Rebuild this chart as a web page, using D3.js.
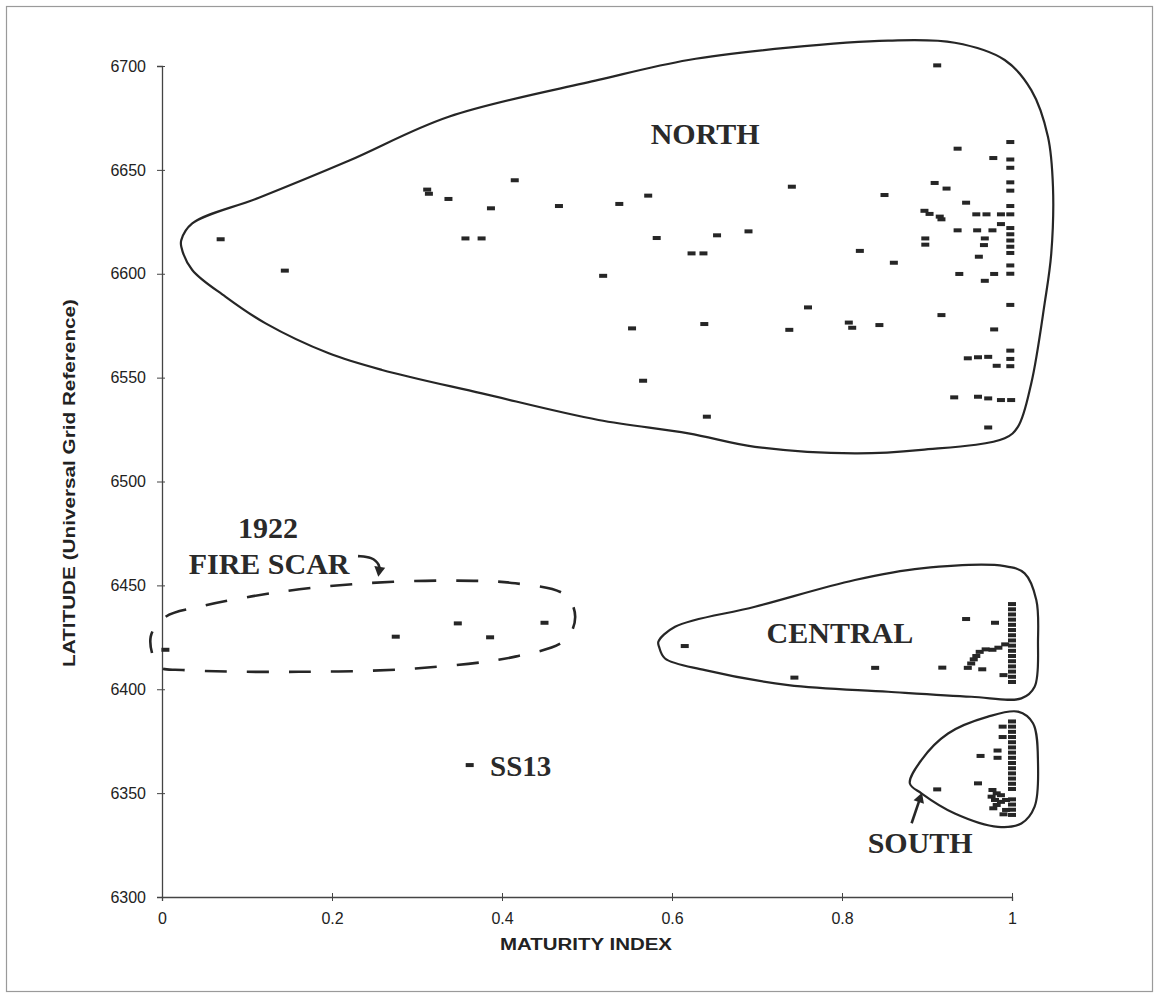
<!DOCTYPE html>
<html>
<head>
<meta charset="utf-8">
<script src="https://cdn.jsdelivr.net/npm/d3@7"></script>
<style>
  html, body { margin: 0; padding: 0; background: #fff; }
  svg { display: block; }
</style>
</head>
<body>
<svg id="chart" width="1159" height="998"></svg>
<script>
// ---------------- DATA ----------------
const xTicks = [0, 0.2, 0.4, 0.6, 0.8, 1];
const xTickLabels = ["0", "0.2", "0.4", "0.6", "0.8", "1"];
const yTicks = [6300, 6350, 6400, 6450, 6500, 6550, 6600, 6650, 6700];
const xTitle = "MATURITY INDEX";
const yTitle = "LATITUDE (Universal Grid Reference)";

// [maturity index, latitude]
const northPoints = [
  [0.069,6616.6],[0.1445,6601.5],[0.312,6640.5],[0.314,6638.5],[0.337,6636],[0.387,6631.5],[0.415,6645],
  [0.467,6632.6],[0.357,6617],[0.376,6617],
  [0.538,6633.6],[0.572,6637.6],[0.582,6617.2],[0.653,6618.5],[0.623,6609.8],[0.637,6609.8],[0.690,6620.4],
  [0.741,6641.9],[0.850,6637.9],[0.519,6599],[0.760,6583.8],[0.821,6611],[0.861,6605.3],
  [0.912,6700.3],[0.936,6660.2],[0.978,6655.7],[0.998,6663.4],[0.998,6655],[0.998,6651],
  [0.909,6643.7],[0.923,6641],[0.998,6644],[0.998,6640],[0.946,6634.2],[0.998,6632.6],
  [0.897,6630.3],[0.903,6628.8],[0.915,6627.5],[0.917,6626.2],
  [0.958,6628.6],[0.970,6628.6],[0.987,6628.6],[0.998,6628.6],
  [0.936,6620.9],[0.959,6620.9],[0.977,6620.9],[0.987,6623.9],
  [0.998,6622],[0.998,6619],[0.998,6616],[0.998,6613],[0.998,6610],
  [0.968,6617],[0.967,6613.8],[0.961,6608.2],[0.898,6617],[0.898,6614],
  [0.938,6599.9],[0.968,6596.6],[0.979,6599.9],[0.998,6604],[0.998,6600],[0.998,6585],[0.917,6580.1],
  [0.553,6573.7],[0.638,6575.8],[0.738,6573],[0.808,6576.5],[0.812,6574],[0.844,6575.3],[0.979,6573.2],
  [0.566,6548.5],[0.641,6531.2],
  [0.948,6559.3],[0.960,6559.8],[0.972,6560],[0.982,6555.7],[0.998,6563],[0.998,6559],[0.998,6555.5],
  [0.932,6540.5],[0.960,6540.8],[0.972,6540],[0.987,6539.2],[0.999,6539.2],[0.972,6526]
];
const centralPoints = [
  [0.615,6420.8],[0.744,6405.6],[0.839,6410.3],[0.918,6410.4],[0.946,6433.8],[0.980,6432],
  [0.948,6410.3],[0.952,6412.4],[0.955,6414.4],[0.958,6416],[0.962,6418],[0.969,6419.2],
  [0.977,6419],[0.984,6420],[0.992,6421.6],[0.965,6409.6],[0.990,6406.8],
  [1,6441],[1,6438.5],[1,6436],[1,6433.5],[1,6431],[1,6428.5],[1,6426],[1,6423.5],
  [1,6421],[1,6418.5],[1,6416],[1,6413.5],[1,6411],[1,6408.5],[1,6406],[1,6403.5]
];
const southPoints = [
  [0.912,6351.8],[0.960,6354.7],[0.963,6367.9],[0.983,6370.5],[0.983,6367],[0.989,6382],[0.989,6377],
  [0.977,6351.5],[0.982,6349.9],[0.976,6348.3],[0.980,6346.7],[0.982,6344.3],[0.978,6342.7],
  [0.987,6345.8],[0.993,6346.7],[0.993,6341.9],[0.987,6349],[0.990,6339.8],
  [1,6384.5],[1,6382],[1,6379.5],[1,6377],[1,6374.5],[1,6372],[1,6369.5],[1,6367],[1,6364.5],
  [1,6362],[1,6359.5],[1,6357],[1,6354.5],[1,6352],[1,6347],[1,6344.5],[1,6342],[1,6339.5]
];
const fireScarPoints = [[0.004,6419],[0.275,6425.3],[0.348,6431.7],[0.386,6425],[0.450,6432]];
const ss13Points = [[0.362,6363.5]];

// region outlines (data units)
const northOutline = [
  [0.0227,6616.2],[0.0356,6624.2],[0.114,6636.6],[0.2197,6654.4],[0.3373,6675.6],[0.5135,6693.3],
  [0.6193,6702.9],[0.7368,6708.8],[0.8543,6712.2],[0.9327,6711.2],[0.9914,6702.9],[1.0227,6688.4],
  [1.0423,6666],[1.0482,6641.9],[1.0462,6609.8],[1.0384,6585.7],[1.0227,6547.3],[1.0071,6526.4],
  [0.9914,6520.8],[0.8934,6515.2],[0.8152,6513.5],[0.6976,6516.7],[0.6193,6523.2],[0.5135,6529.6],
  [0.3764,6542.4],[0.2589,6553.7],[0.1962,6561.7],[0.1219,6576.1],[0.0749,6588.9],[0.0356,6601.8],
  [0.0227,6613]
];
const centralOutline = [
  [0.584,6422.9],[0.6036,6430.1],[0.6976,6439.7],[0.8152,6452.6],[0.8934,6458.2],[0.9914,6459.3],
  [1.0149,6455.8],[1.0286,6443],[1.0306,6423.7],[1.0266,6401.2],[1.011,6395.6],[0.9522,6396.4],
  [0.8543,6398.8],[0.7368,6402],[0.6389,6409.2],[0.5918,6414.8],[0.5848,6420.4]
];
const southOutline = [
  [0.8798,6354.7],[0.8934,6365.9],[0.9248,6378.7],[0.9718,6386.8],[1.0071,6389.2],[1.0247,6383.6],
  [1.0306,6364.4],[1.0266,6343.5],[1.011,6335.4],[0.9835,6333.8],[0.9327,6340.2],[0.8934,6349.9]
];
const fireScarOutline = [
  [-0.0133,6425.3],[0.0043,6434.9],[0.0435,6439.7],[0.1414,6447],[0.2394,6451],[0.3373,6452.3],
  [0.4156,6451],[0.4744,6445.4],[0.4861,6434.9],[0.4744,6423.7],[0.4156,6415.7],[0.2981,6410],
  [0.161,6408.4],[0.0239,6409.3],[-0.0035,6410.9]
];

// annotation labels [x, latitude, text]
const regionLabels = [
  [0.639, 6662.5, "NORTH"],
  [0.7976, 6422.4, "CENTRAL"],
  [0.892, 6321.3, "SOUTH"],
  [0.1247, 6472.8, "1922"],
  [0.126, 6455.5, "FIRE SCAR"]
];
const ss13Label = [0.386, 6358.2, "SS13"];
const fireArrow = [[0.2306,6464.1],[0.247,6463.7],[0.2565,6459.8],[0.2555,6457]];
const southArrow = [[0.8819,6335.5],[0.8918,6347.5]];

// ---------------- CHART ----------------
const svg = d3.select("#chart");
const x = d3.scaleLinear().domain([0, 1]).range([162, 1012]);
const y = d3.scaleLinear().domain([6300, 6700]).range([897, 66]);
const ink = "#262626";

// outer frame
svg.append("rect").attr("x", 6.5).attr("y", 6.5).attr("width", 1146).attr("height", 985)
  .attr("fill", "none").attr("stroke", "#9a9a9a").attr("stroke-width", 1.2);

// axes
const yAxis = d3.axisLeft(y).tickValues(yTicks).tickFormat(d3.format("d")).tickSize(5).tickPadding(11);
const gy = svg.append("g").attr("transform", `translate(${x(0)},0)`).call(yAxis);
gy.select(".domain").attr("stroke", "#444").attr("stroke-width", 1.3);
gy.selectAll(".tick line").attr("x1", 3).attr("x2", -5).attr("stroke", "#444");
gy.selectAll(".tick text").attr("font-family", "Arial, 'Liberation Sans', sans-serif")
  .attr("font-size", 16).attr("fill", "#222");

const xAxis = d3.axisBottom(x).tickValues(xTicks).tickFormat((d, i) => xTickLabels[i]).tickSize(4).tickPadding(12);
const gx = svg.append("g").attr("transform", `translate(0,${y(6300)})`).call(xAxis);
gx.select(".domain").attr("stroke", "#444").attr("stroke-width", 1.3);
gx.selectAll(".tick line").attr("y1", -4).attr("y2", 4).attr("stroke", "#444");
gx.selectAll(".tick text").attr("font-family", "Arial, 'Liberation Sans', sans-serif")
  .attr("font-size", 16).attr("fill", "#222");

// axis titles
svg.append("text").attr("x", 586).attr("y", 950).attr("text-anchor", "middle")
  .attr("font-family", "Arial, 'Liberation Sans', sans-serif").attr("font-weight", "bold")
  .attr("font-size", 16).attr("fill", "#222")
  .attr("textLength", 172).attr("lengthAdjust", "spacingAndGlyphs").text(xTitle);
svg.append("text").attr("transform", "translate(75,483) rotate(-90)").attr("text-anchor", "middle")
  .attr("font-family", "Arial, 'Liberation Sans', sans-serif").attr("font-weight", "bold")
  .attr("font-size", 16).attr("fill", "#222")
  .attr("textLength", 368).attr("lengthAdjust", "spacingAndGlyphs").text(yTitle);

// outlines
const line = d3.line().x(d => x(d[0])).y(d => y(d[1])).curve(d3.curveCatmullRomClosed.alpha(0.5));
[northOutline, centralOutline, southOutline].forEach(o => {
  svg.append("path").attr("d", line(o)).attr("fill", "none").attr("stroke", ink).attr("stroke-width", 2.2);
});
svg.append("path").attr("d", line(fireScarOutline)).attr("fill", "none").attr("stroke", ink)
  .attr("stroke-width", 2.6).attr("stroke-dasharray", "22,20");

// points (small dash markers)
const allPoints = [].concat(northPoints, centralPoints, southPoints, fireScarPoints, ss13Points);
svg.append("g").selectAll("rect").data(allPoints).join("rect")
  .attr("x", d => x(d[0]) - 4).attr("y", d => y(d[1]) - 2)
  .attr("width", 8).attr("height", 4).attr("fill", ink);

// labels
const serif = "'Times New Roman', 'Liberation Serif', serif";
svg.append("g").selectAll("text").data(regionLabels).join("text")
  .attr("x", d => x(d[0])).attr("y", d => y(d[1])).attr("text-anchor", "middle")
  .attr("font-family", serif).attr("font-weight", "bold").attr("font-size", 30).attr("fill", "#2a2a2a")
  .text(d => d[2]);
svg.append("text").attr("x", x(ss13Label[0])).attr("y", y(ss13Label[1]))
  .attr("font-family", serif).attr("font-weight", "bold").attr("font-size", 29).attr("fill", "#2a2a2a")
  .text(ss13Label[2]);

// arrows
const openLine = d3.line().x(d => x(d[0])).y(d => y(d[1])).curve(d3.curveBasis);
function arrow(pts) {
  svg.append("path").attr("d", openLine(pts)).attr("fill", "none").attr("stroke", ink).attr("stroke-width", 2.6);
  const a = pts[pts.length - 2], b = pts[pts.length - 1];
  const ax = x(a[0]), ay = y(a[1]), bx = x(b[0]), by = y(b[1]);
  const ang = Math.atan2(by - ay, bx - ax);
  const L = 10, W = 5.5;
  const tx = bx + Math.cos(ang) * 6, ty = by + Math.sin(ang) * 6;
  const p1 = [tx - Math.cos(ang) * L + Math.sin(ang) * W, ty - Math.sin(ang) * L - Math.cos(ang) * W];
  const p2 = [tx - Math.cos(ang) * L - Math.sin(ang) * W, ty - Math.sin(ang) * L + Math.cos(ang) * W];
  svg.append("path").attr("d", `M${tx},${ty}L${p1[0]},${p1[1]}L${p2[0]},${p2[1]}Z`).attr("fill", ink);
}
arrow(fireArrow);
arrow(southArrow);
</script>
</body>
</html>
